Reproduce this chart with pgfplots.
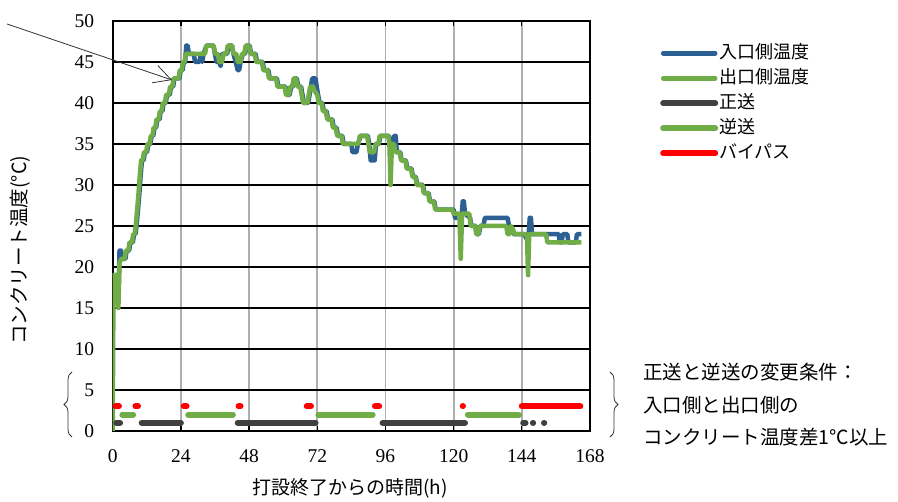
\documentclass[border=0pt]{standalone}
\usepackage{fontspec}
\setmainfont{Liberation Serif}
\newfontfamily\jp{Noto Sans CJK JP}
\usepackage{pgfplots}
\pgfplotsset{compat=1.18}
\usetikzlibrary{arrows.meta,decorations.pathreplacing}
\definecolor{cblue}{RGB}{44,96,146}
\definecolor{cgreen}{RGB}{112,173,71}
\definecolor{cdark}{RGB}{64,64,64}
\definecolor{cgrid}{RGB}{175,175,175}
\begin{document}
\begin{tikzpicture}[x=1pt,y=1pt]
\path[use as bounding box] (0,0) rectangle (898,502);
\begin{axis}[
  at={(112.7pt,71pt)}, anchor=south west,
  scale only axis, width=477.3pt, height=410pt,
  xmin=0, xmax=168, ymin=0, ymax=50,
  xtick={0,24,...,168}, ytick={0,5,...,50},
  xmajorgrids, ymajorgrids,
  x grid style={cgrid, line width=1.8pt},
  y grid style={black, line width=1.7pt},
  axis line style={black, line width=2.2pt},
  tick style={black, line width=1.3pt},
  major tick length=5pt,
  tick align=inside,
  ytick style={draw=none},
  ticklabel style={font=\fontsize{19.5}{19.5}\selectfont},
  /pgf/number format/assume math mode=true,
  xticklabel style={yshift=-15pt},
  yticklabel style={xshift=-15pt},
  xlabel={\jp 打設終了からの時間(h)},
  xlabel style={font=\fontsize{19}{19}\selectfont, at={(axis description cs:0.497,-0.139)}, anchor=center},
  ylabel={\jp コンクリート温度({°}C)},
  ylabel style={font=\fontsize{19.5}{19.5}\selectfont, at={(axis description cs:-0.194,0.441)}, anchor=center},
  unbounded coords=jump,
  legend cell align=left,
  legend style={at={(axis description cs:1.1467,0.946)}, anchor=north west, draw=none, fill=none,
    inner sep=0pt, font=\jp\fontsize{18}{18}\selectfont, row sep=5pt,
    nodes={inner sep=1pt, text height=14pt, text depth=4pt}},
  legend image code/.code={\draw[#1, line cap=round] (0pt,0pt) -- (52pt,0pt);},
]
% inlet temperature
\addplot[cblue, line width=4.5pt, line join=round] coordinates {
(0,19)(1.5,19)(2,16)(2.4,22)(2.9,22)(3.2,21)(4.5,21)(4.9,22)(5.8,22)(6.2,23)(7.1,23)(7.5,24)(8,24)(8.4,25)(8.9,27)(9.4,29)(9.8,31)(10.3,33)(10.9,33)(11.3,34)(12.1,34)(12.5,35)(13.3,35)(13.7,36)(14.3,36)(14.7,37)(15.3,37)(15.7,38)(16.5,38)(16.9,39)(17.5,39)(17.9,40)(18.7,40)(19.1,41)(20.1,41)(20.5,42)(21.3,42)(21.7,43)(23.5,43)(23.9,44)(24.6,44)(25,45)(25.5,45)(25.9,47)(26.4,47)(26.8,46)(28.5,46)(29,45)(30.5,45)(31,46)(31.5,45)(32,46)(33,47)(35.5,47)(36,46)(36.5,45)(37.5,45)(38,44.5)(38.5,46)(40.3,46)(40.8,47)(42,47)(42.5,46)(43.3,45)(44,44)(44.5,44)(45,45)(45.8,46)(46.6,46)(47.1,47)(48.2,47)(48.7,46)(50.3,46)(50.8,45)(52.8,45)(53.3,44)(54.8,44)(55.3,43)(57.8,43)(58.3,42)(60.8,42)(61.3,41)(62.3,41)(62.8,42)(63.5,42)(63.9,43)(64.8,43)(65.3,42)(66.3,42)(66.8,41)(67.3,40)(68.8,40)(69.3,41)(69.8,42)(70.2,43)(71.4,43)(71.8,42)(72.3,41)(72.8,40)(73.8,40)(74.3,39)(75.3,39)(75.8,38)(77.3,38)(77.8,37)(78.8,37)(79.3,36)(80.8,36)(81.3,35)(84,35)(84.4,34)(85.8,34)(86.3,35)(87.3,36)(89.8,36)(90.3,35)(90.8,33)(92.2,33)(92.7,35)(93.7,35)(94.2,36)(97.2,36)(97.7,35)(98.5,35)(99.1,36)(99.6,36)(100,34)(101.2,34)(101.7,33)(103.2,33)(103.7,32)(105.2,32)(105.7,31)(106.7,31)(107.2,30)(109.2,30)(109.7,29)(111.2,29)(111.7,28)(113.2,28)(113.7,27)(120,27)(120.5,26)(122.8,26)(123.2,28)(123.6,28)(124,26.5)(125.8,26)(126.2,25)(127.8,25)(128.2,24)(128.9,24)(129.4,25)(130.5,25)(131,26)(139,26)(139.5,25)(140.5,24.5)(141.2,24)(145,24)(145.5,23.5)(146.3,23.5)(146.8,26)(147.2,26)(147.6,24)(157,24)(157.4,23)(158,23)(158.4,24)(160,24)(160.4,23)(163,23)(163.4,24)(165,24)
};
\addlegendentry{入口側温度}
% outlet temperature
\addplot[cgreen, line width=4.5pt, line join=round] coordinates {
(0,0)(0.3,19)(1.5,19)(2,15)(2.4,20.5)(3,21)(4.2,21)(4.6,22)(5.5,22)(5.9,23)(6.8,23)(7.2,24)(7.7,24)(8.1,25)(8.6,27)(9.1,29)(9.5,31)(10,33)(10.6,33)(11,34)(11.8,34)(12.2,35)(13,35)(13.4,36)(14,36)(14.4,37)(15,37)(15.4,38)(16.2,38)(16.6,39)(17.2,39)(17.6,40)(18.4,40)(18.8,41)(19.8,41)(20.2,42)(21,42)(21.4,43)(23.2,43)(23.6,44)(24.3,44)(24.7,45)(25.3,45)(25.7,46)(32.5,46)(33,47)(35.5,47)(36,46)(37,46)(37.5,45)(38.5,45)(39,46)(40,46)(40.5,47)(42,47)(42.5,46)(43.5,46)(44,45)(45,45)(45.5,46)(46.3,46)(46.8,47)(48,47)(48.5,46)(50,46)(50.5,45)(52.5,45)(53,44)(54.5,44)(55,43)(57.5,43)(58,42)(60.5,42)(61,41)(62,41)(62.5,42)(63.2,42)(63.7,43)(64.5,43)(65,42)(66,42)(66.5,41)(67,40)(68.5,40)(69,41)(69.5,42)(70.5,42)(71,41.5)(72,41)(72.5,40)(73.5,40)(74,39)(75,39)(75.5,38)(77,38)(77.5,37)(78.5,37)(79,36)(80.5,36)(81,35)(86.5,35)(87,36)(89.5,36)(90,35)(90.5,34)(92,34)(92.5,35)(93.5,35)(94,36)(97,36)(97.4,35)(97.8,30)(98.3,35)(99,35)(99.5,34)(101,34)(101.5,33)(103,33)(103.5,32)(105,32)(105.5,31)(106.5,31)(107,30)(109,30)(109.5,29)(111,29)(111.5,28)(113,28)(113.5,27)(119.5,27)(120,26.5)(122,26.5)(122.5,21)(123,26.5)(125.5,26.5)(126,25)(127.5,25)(128,24)(128.7,24)(129.2,25)(138.5,25)(139,24)(139.7,24)(140.2,25)(141,24.5)(141.5,24)(145.8,24)(146.2,19)(146.6,24)(152.5,24)(153,23)(165,23)
};
\addlegendentry{出口側温度}
% forward flow
\addplot[cdark, line width=6pt, line cap=round] coordinates {
(1.3,1)(2.6,1)(2.6,nan)(10.2,1)(24,1)(24,nan)(44,1)(71.4,1)(71.4,nan)(95,1)(124,1)(124,nan)(144.5,1)(145.3,1)(145.3,nan)(147.9,1)(148,1)(148,nan)(151.8,1)(151.9,1)
};
\addlegendentry{正送}
% reverse flow
\addplot[cgreen, line width=6pt, line cap=round] coordinates {
(3.4,2)(7.2,2)(7.2,nan)(26.6,2)(42.3,2)(42.3,nan)(72.4,2)(91.5,2)(91.5,nan)(125,2)(143,2)
};
\addlegendentry{逆送}
% bypass
\addplot[red, line width=6pt, line cap=round] coordinates {
(1,3)(2.2,3)(2.2,nan)(8,3)(8.9,3)(8.9,nan)(25,3)(26,3)(26,nan)(44.3,3)(45,3)(45,nan)(68.3,3)(69.8,3)(69.8,nan)(92.3,3)(93.8,3)(93.8,nan)(123.2,3)(123.3,3)(123.3,nan)(144,3)(164.6,3)
};
\addlegendentry{バイパス}
\node[rotate=90, font=\jp\fontsize{19.5}{19.5}\selectfont] at (axis description cs:1.0377,0.49) {流れの方向};
\end{axis}
\draw[black!80, line width=0.8pt, -{Straight Barb[length=17pt,width=18pt]}] (7,478) -- (172,422);
\draw[black!80, line width=0.8pt, decorate, decoration={brace, amplitude=8pt}] (72,65) -- (72,130);
\draw[black!80, line width=0.8pt, decorate, decoration={brace, amplitude=8pt}] (610,130) -- (610,65);
\node[anchor=west, font=\jp\fontsize{19.5}{19.5}\selectfont, inner sep=0pt] at (643,130) {正送と逆送の変更条件：};
\node[anchor=west, font=\jp\fontsize{19.5}{19.5}\selectfont, inner sep=0pt] at (643,97) {入口側と出口側の};
\node[anchor=west, font=\jp\fontsize{19.5}{19.5}\selectfont, inner sep=0pt] at (643,65) {コンクリート温度差1℃以上};
\end{tikzpicture}
\end{document}
